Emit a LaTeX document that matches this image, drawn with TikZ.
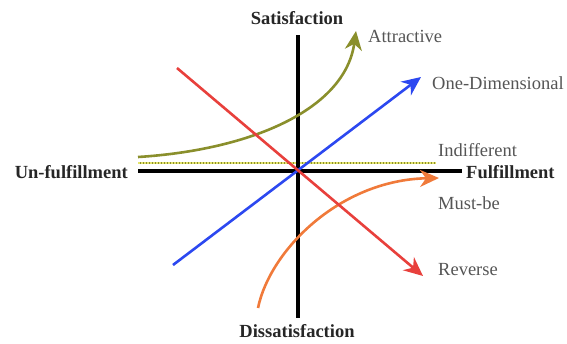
\documentclass[tikz,border=0pt]{standalone}
\usepackage{fontspec}
\setmainfont{Liberation Serif}
\usetikzlibrary{arrows.meta, positioning}
\definecolor{revred}{HTML}{E8403C}
\definecolor{onedblue}{HTML}{2C48F0}
\definecolor{attolive}{HTML}{8A8F2C}
\definecolor{mustorange}{HTML}{F07A3A}
\definecolor{indyellow}{HTML}{E4E46E}
\definecolor{lblgray}{HTML}{555555}

\begin{document}
\begin{tikzpicture}[
  x=1pt, y=-1pt,
  >={Stealth[length=19pt, width=17pt, inset=6pt]},
  axislbl/.style={font=\fontsize{18.5}{20}\selectfont\bfseries, text=black!85, inner sep=2pt},
  typelbl/.style={font=\fontsize{18.5}{20}\selectfont, text=lblgray, anchor=west, inner sep=2pt},
  curve/.style={line width=2.6pt},
]

\useasboundingbox (0,0) rectangle (567,343);

% Axis labels
\node[axislbl] (sat) at (297,18) {Satisfaction};
\node[axislbl] (dis) at (297,331) {Dissatisfaction};
\node[axislbl, anchor=east] (unf) at (130,172) {Un-fulfillment};
\node[axislbl, anchor=west] (ful) at (464,172) {Fulfillment};

% Category labels
\node[typelbl] (att) at (366,36) {Attractive};
\node[typelbl] (oned) at (430,83) {One-Dimensional};
\node[typelbl] (ind) at (436,150) {Indifferent};
\node[typelbl] (must) at (436,203) {Must-be};
\node[typelbl] (rev) at (436,270) {Reverse};

% Axis ends
\coordinate (top) at (298,35);
\coordinate (bot) at (298,318);
\coordinate (lft) at (138,171);
\coordinate (rgt) at (462,171);

% Curve ends
\coordinate (revS) at (177,68);
\coordinate (revE) at (423,276);
\coordinate (onedS) at (173,265);
\coordinate (onedE) at (421,77);
\coordinate (attS) at (138,157);
\coordinate (attE) at (356,31);
\coordinate (indS) at (138,163);
\coordinate (indE) at (436,163);
\coordinate (mustS) at (258,308);
\coordinate (mustE) at (439,178);

% === Indifferent ===
\draw[attolive, line width=2.8pt] (indS) -- (indE);
\draw[indyellow, line width=1.2pt, dash pattern=on 1.5pt off 1.5pt] (indS) -- (indE);

% === Axes ===
\draw[line width=4.5pt] (top) -- (bot);
\draw[line width=4.5pt] (lft) -- (rgt);

% === Attractive ===
\draw[attolive, curve, ->] (attS) .. controls (250,150) and (345,110) .. (attE);

% === One-Dimensional ===
\draw[onedblue, curve, ->] (onedS) -- (onedE);

% === Must-be ===
\draw[mustorange, curve, ->] (mustS) .. controls (270,250) and (340,180) .. (mustE);

% === Reverse ===
\draw[revred, curve, ->] (revS) -- (revE);

\end{tikzpicture}
\end{document}
